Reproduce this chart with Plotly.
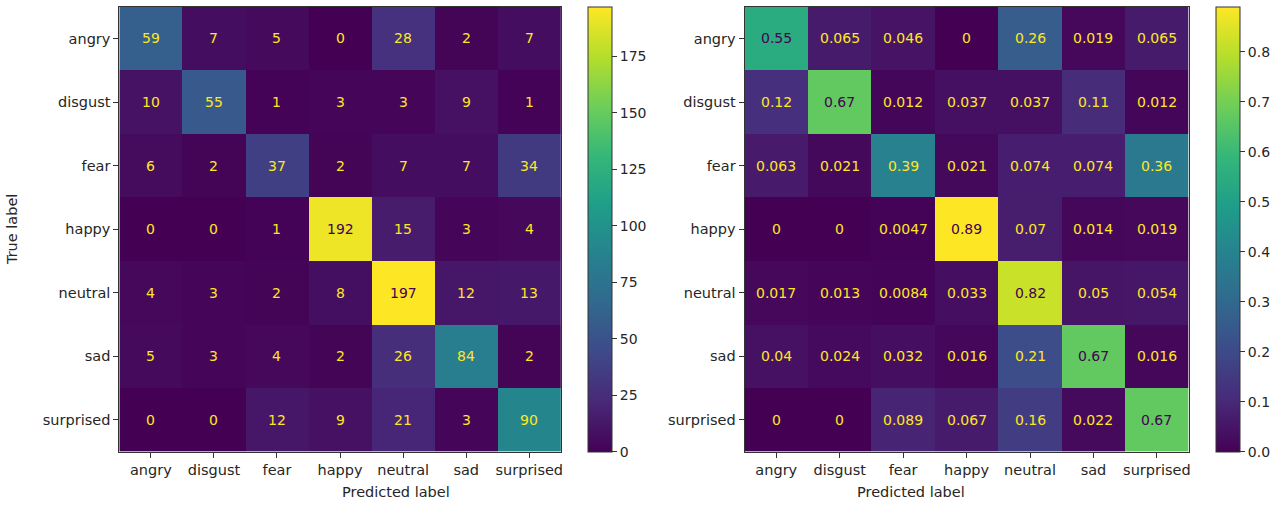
import plotly.graph_objects as go

labels = ["angry", "disgust", "fear", "happy", "neutral", "sad", "surprised"]

# Raw confusion counts (rows = true label, columns = predicted label)
counts = [
    [59, 7, 5, 0, 28, 2, 7],
    [10, 55, 1, 3, 3, 9, 1],
    [6, 2, 37, 2, 7, 7, 34],
    [0, 0, 1, 192, 15, 3, 4],
    [4, 3, 2, 8, 197, 12, 13],
    [5, 3, 4, 2, 26, 84, 2],
    [0, 0, 12, 9, 21, 3, 90],
]

# Row-normalised confusion matrix
normalized = [
    [0.55, 0.065, 0.046, 0, 0.26, 0.019, 0.065],
    [0.12, 0.67, 0.012, 0.037, 0.037, 0.11, 0.012],
    [0.063, 0.021, 0.39, 0.021, 0.074, 0.074, 0.36],
    [0, 0, 0.0047, 0.89, 0.07, 0.014, 0.019],
    [0.017, 0.013, 0.0084, 0.033, 0.82, 0.05, 0.054],
    [0.04, 0.024, 0.032, 0.016, 0.21, 0.67, 0.016],
    [0, 0, 0.089, 0.067, 0.16, 0.022, 0.67],
]

count_ticks = [0, 25, 50, 75, 100, 125, 150, 175]
norm_ticks = [0.0, 0.1, 0.2, 0.3, 0.4, 0.5, 0.6, 0.7, 0.8]

W, H = 1281, 507
FONT = "DejaVu Sans"
TXT = "#262626"
LIGHT = "#fde725"
DARK = "#440154"


def px_x(p):
    return p / W


def px_y(p):
    return 1 - p / H


top_px, bot_px = 6.7, 451.5
panels = [
    dict(z=counts, x0=119.5, x1=561.7, cb=589, ticks=count_ticks, fmt="d", tickfmt="d"),
    dict(z=normalized, x0=745.7, x1=1190.5, cb=1218, ticks=norm_ticks, fmt=".2g", tickfmt=".1f"),
]

fig = go.Figure()
annotations = []

for i, p in enumerate(panels):
    n = i + 1
    xa = "x" if n == 1 else f"x{n}"
    ya = "y" if n == 1 else f"y{n}"
    z = p["z"]
    zmax = max(max(r) for r in z)
    zmin = min(min(r) for r in z)
    fig.add_trace(go.Heatmap(
        z=z, x=labels, y=labels, xaxis=xa, yaxis=ya,
        colorscale="Viridis", zmin=0, zmax=zmax,
        colorbar=dict(
            x=px_x(p["cb"]), xanchor="left", xpad=0, ypad=0,
            y=px_y(top_px), yanchor="top", len=(bot_px - top_px) / H, lenmode="fraction",
            thickness=24, thicknessmode="pixels",
            outlinewidth=1, outlinecolor="#333",
            tickmode="array", tickvals=p["ticks"], tickformat=p["tickfmt"],
            tickprefix="\u00a0",
            ticks="outside", ticklen=5, tickcolor="#333",
            tickfont=dict(family=FONT, size=14, color=TXT),
        ),
        hoverinfo="skip",
    ))
    thresh = (zmax + zmin) / 2
    for r, row in enumerate(z):
        for c, v in enumerate(row):
            annotations.append(dict(
                x=labels[c], y=labels[r], xref=xa, yref=ya,
                text=format(v, p["fmt"]), showarrow=False,
                font=dict(family=FONT, size=14, color=LIGHT if v < thresh else DARK),
            ))
    axis_common = dict(
        showline=True, mirror=True, linecolor="#333", linewidth=1,
        ticks="outside", ticklen=5, tickcolor="#333",
        tickfont=dict(family=FONT, size=14.5, color=TXT),
        showgrid=False, zeroline=False,
    )
    fig.update_layout({
        ("xaxis" if n == 1 else f"xaxis{n}"): dict(
            domain=[px_x(p["x0"]), px_x(p["x1"])], anchor=ya, **axis_common),
        ("yaxis" if n == 1 else f"yaxis{n}"): dict(
            domain=[px_y(bot_px), px_y(top_px)], anchor=xa,
            autorange="reversed", **axis_common),
    })
    annotations.append(dict(
        x=px_x((p["x0"] + p["x1"]) / 2), y=px_y(492), xref="paper", yref="paper",
        text="Predicted label", showarrow=False, yanchor="middle",
        font=dict(family=FONT, size=14.5, color=TXT),
    ))

annotations.append(dict(
    x=px_x(12), y=px_y((top_px + bot_px) / 2), xref="paper", yref="paper",
    text="True label", showarrow=False, textangle=-90, xanchor="center",
    font=dict(family=FONT, size=14.5, color=TXT),
))

fig.update_layout(
    width=W, height=H,
    margin=dict(l=0, r=0, t=0, b=0),
    paper_bgcolor="white", plot_bgcolor="white",
    annotations=annotations,
    showlegend=False,
)

fig.write_html("out.html", config={"displayModeBar": False})
